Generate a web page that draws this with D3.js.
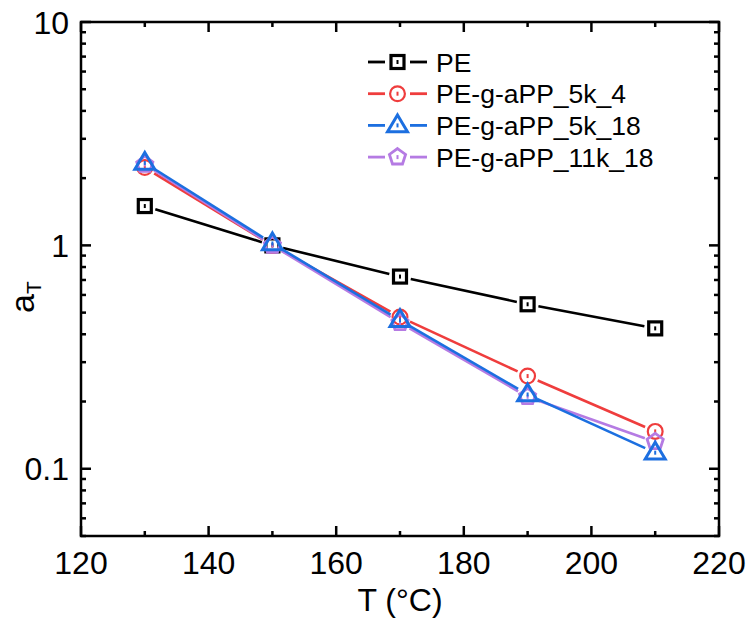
<!DOCTYPE html>
<html>
  <head>
    <meta charset="UTF-8">
    <style>
      body { margin: 0; background: #fff; font-family: Arial, "Liberation Sans", sans-serif; }
      .tick-label { font-size: 32px; fill: #000; }
      .legend-text { font-size: 26.5px; fill: #000; }
    </style>
    <script src="https://d3js.org/d3.v7.min.js"></script>
  </head>
  <body>
    <svg id="chart"></svg>
    <script type="text/javascript">
      // data
      let temps = [130, 150, 170, 190, 210]
      let pe = [1.5, 1.0, 0.725, 0.545, 0.425]
      let pe5k4 = [2.23, 1.0, 0.478, 0.26, 0.147]
      let pe5k18 = [2.34, 1.02, 0.462, 0.215, 0.118]
      let pe11k18 = [2.3, 1.0, 0.45, 0.21, 0.132]
      let seriesNames = ['PE', 'PE-g-aPP_5k_4', 'PE-g-aPP_5k_18', 'PE-g-aPP_11k_18']
      let xTicks = [120, 140, 160, 180, 200, 220]
      let yTicks = [0.1, 1, 10]

      let series = [
        {name: seriesNames[0], values: pe, color: '#000000', shape: 'square'},
        {name: seriesNames[1], values: pe5k4, color: '#ef3d3d', shape: 'circle'},
        {name: seriesNames[3], values: pe11k18, color: '#b57be3', shape: 'pentagon'},
        {name: seriesNames[2], values: pe5k18, color: '#1c6fe0', shape: 'triangle'}
      ]

      let width = 751, height = 624
      let margin = {top: 22, right: 32, bottom: 88, left: 81}
      let svg = d3.select('#chart').attr('width', width).attr('height', height)

      let x = d3.scaleLinear().domain([120, 220]).range([margin.left, width - margin.right])
      let y = d3.scaleLog().domain([0.05, 10]).range([height - margin.bottom, margin.top])

      let x0 = x.range()[0], x1 = x.range()[1]
      let y0 = y.range()[0], y1 = y.range()[1]

      // minor ticks
      let xMinor = d3.range(120, 221, 10).filter(v => v % 20 !== 0)
      let yMinor = []
      ;[0.01, 0.1, 1].forEach(d => {
        for (let k = 2; k <= 9; k++) {
          let v = d * k
          if (v > 0.05 - 1e-9 && v < 10) yMinor.push(v)
        }
      })

      let axes = svg.append('g').attr('stroke', '#000').attr('stroke-width', 2.5)
      function tickLines(vals, len, isX) {
        vals.forEach(v => {
          if (isX) {
            axes.append('line').attr('x1', x(v)).attr('x2', x(v)).attr('y1', y0).attr('y2', y0 - len)
            axes.append('line').attr('x1', x(v)).attr('x2', x(v)).attr('y1', y1).attr('y2', y1 + len)
          } else {
            axes.append('line').attr('y1', y(v)).attr('y2', y(v)).attr('x1', x0).attr('x2', x0 + len)
            axes.append('line').attr('y1', y(v)).attr('y2', y(v)).attr('x1', x1).attr('x2', x1 - len)
          }
        })
      }
      tickLines(xTicks, 10, true)
      tickLines(xMinor, 5, true)
      tickLines(yTicks, 10, false)
      tickLines(yMinor, 5, false)

      axes.append('rect')
        .attr('x', x0).attr('y', y1)
        .attr('width', x1 - x0).attr('height', y0 - y1)
        .attr('fill', 'none')

      svg.selectAll('.xlab').data(xTicks).join('text')
        .attr('class', 'tick-label')
        .attr('x', d => x(d)).attr('y', y0 + 38)
        .attr('text-anchor', 'middle')
        .text(d => d)

      svg.selectAll('.ylab').data(yTicks).join('text')
        .attr('class', 'tick-label')
        .attr('x', x0 - 12).attr('y', d => y(d) + 11.5)
        .attr('text-anchor', 'end')
        .text(d => d)

      svg.append('text')
        .attr('x', (x0 + x1) / 2).attr('y', 611)
        .attr('text-anchor', 'middle')
        .attr('font-size', 32)
        .text('T (\u00B0C)')

      let yTitle = svg.append('text')
        .attr('transform', `translate(34, ${(y0 + y1) / 2 + 34}) rotate(-90)`)
        .attr('font-size', 34)
      yTitle.append('tspan').text('a')
      yTitle.append('tspan').attr('font-size', 21).attr('dy', 7).text('T')

      function drawMarker(g, shape, cx, cy, color) {
        let m = g.append('g').attr('transform', `translate(${cx},${cy})`)
        if (shape === 'square') {
          m.append('rect').attr('x', -6.5).attr('y', -6.5).attr('width', 13).attr('height', 13)
            .attr('fill', '#fff').attr('stroke', color).attr('stroke-width', 3.2)
        } else if (shape === 'circle') {
          m.append('circle').attr('r', 7.4)
            .attr('fill', 'none').attr('stroke', color).attr('stroke-width', 2.2)
        } else if (shape === 'triangle') {
          let r = 10.5
          let pts = [[0, -r], [r * 0.95, r * 0.6], [-r * 0.95, r * 0.6]]
          m.append('polygon').attr('points', pts.map(p => p.join(',')).join(' '))
            .attr('fill', 'none').attr('stroke', color).attr('stroke-width', 3)
        } else if (shape === 'pentagon') {
          let r = 8.5
          let pts = d3.range(5).map(i => {
            let a = -Math.PI / 2 + i * 2 * Math.PI / 5
            return [r * Math.cos(a), r * Math.sin(a)]
          })
          m.append('polygon').attr('points', pts.map(p => p.join(',')).join(' '))
            .attr('fill', 'none').attr('stroke', color).attr('stroke-width', 2.8)
        }
        m.append('rect').attr('x', -1).attr('y', -2).attr('width', 2).attr('height', 4)
          .attr('fill', color)
      }

      function drawSegments(g, pts, color, gap) {
        for (let i = 0; i < pts.length - 1; i++) {
          let [ax, ay] = pts[i], [bx, by] = pts[i + 1]
          let dx = bx - ax, dy = by - ay
          let len = Math.sqrt(dx * dx + dy * dy)
          if (len <= 2 * gap) continue
          let ux = dx / len, uy = dy / len
          g.append('line')
            .attr('x1', ax + ux * gap).attr('y1', ay + uy * gap)
            .attr('x2', bx - ux * gap).attr('y2', by - uy * gap)
            .attr('stroke', color).attr('stroke-width', 2.6)
        }
      }

      let plot = svg.append('g')
      series.forEach(s => {
        let pts = temps.map((t, i) => [x(t), y(s.values[i])])
        drawSegments(plot, pts, s.color, 11)
      })
      series.forEach(s => {
        temps.forEach((t, i) => drawMarker(plot, s.shape, x(t), y(s.values[i]), s.color))
      })

      // legend
      let legend = svg.append('g')
      let byName = {}
      series.forEach(s => { byName[s.name] = s })
      seriesNames.forEach((name, i) => {
        let s = byName[name]
        let ly = 62 + i * 31.7
        legend.append('line').attr('x1', 368).attr('x2', 385).attr('y1', ly).attr('y2', ly)
          .attr('stroke', s.color).attr('stroke-width', 2.8)
        legend.append('line').attr('x1', 410).attr('x2', 427).attr('y1', ly).attr('y2', ly)
          .attr('stroke', s.color).attr('stroke-width', 2.8)
        drawMarker(legend, s.shape, 397.5, ly, s.color)
        legend.append('text').attr('class', 'legend-text')
          .attr('x', 436).attr('y', ly + 9.5)
          .text(name)
      })
    </script>
  </body>
</html>
